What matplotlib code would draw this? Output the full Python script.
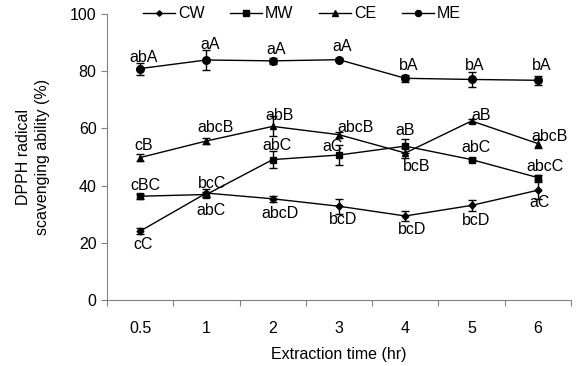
import numpy as np
import matplotlib
matplotlib.use("Agg")
import matplotlib.pyplot as plt

plt.rcParams['font.family'] = ['Liberation Sans', 'DejaVu Sans']

# tiempos de extraccion (categorias del eje x)
tiempos = ['0.5', '1', '2', '3', '4', '5', '6']

# valores medios de cada serie
cw = [24.1, 37.4, 35.4, 32.8, 29.4, 33.1, 38.4]
mw = [36.3, 36.9, 49.1, 50.7, 53.8, 49.1, 42.8]
ce = [49.8, 55.6, 60.7, 57.8, 51.4, 62.6, 54.7]
me = [80.9, 83.9, 83.6, 84.0, 77.5, 77.1, 76.8]

# errores
cw_err = [1.0, 1.5, 1.0, 2.7, 1.8, 1.8, 3.0]
mw_err = [0.8, 1.0, 3.1, 3.6, 2.5, 0.5, 0.8]
ce_err = [1.2, 1.2, 3.5, 1.0, 1.8, 0.6, 1.5]
me_err = [2.1, 3.6, 1.0, 0.5, 1.2, 2.7, 1.5]

# letras de significancia
cw_lab = ['cC', 'abC', 'abcD', 'bcD', 'bcD', 'bcD', 'aC']
mw_lab = ['cBC', 'bcC', 'abC', 'aC', 'aB', 'abC', 'abcC']
ce_lab = ['cB', 'abcB', 'abB', 'abcB', 'bcB', 'aB', 'abcB']
me_lab = ['abA', 'aA', 'aA', 'aA', 'bA', 'bA', 'bA']

x = np.arange(len(tiempos))

fig = plt.figure(figsize=(5.78, 3.66), dpi=100)
ax = fig.add_axes([0.185, 0.180, 0.803, 0.782])

series = [
    ('CW', cw, cw_err, 'D', 3.5),
    ('MW', mw, mw_err, 's', 5),
    ('CE', ce, ce_err, '^', 5),
    ('ME', me, me_err, 'o', 5.5),
]
for nombre, y, e, m, ms in series:
    ax.errorbar(x, y, yerr=e, fmt='none', ecolor='black',
                capsize=3, elinewidth=1, capthick=1)
    ax.plot(x, y, color='black', lw=1, marker=m, ms=ms, label=nombre)

fs = 11.5
# etiquetas: (desplazamiento x, desplazamiento y) en puntos, respecto al punto
def poner(labels, y, offs):
    for i, t in enumerate(labels):
        dx, dy = offs[i]
        ax.annotate(t, (x[i], y[i]), xytext=(dx, dy), textcoords='offset points',
                    ha='center', va='center', fontsize=fs)

poner(me_lab, me, [(2.5, 8), (2.5, 11.5), (2.5, 8.5), (2.5, 9.5), (2.5, 9), (2.5, 10), (2.5, 10.5)])
poner(ce_lab, ce, [(2.5, 8.4), (6.5, 9.4), (5, 7.5), (12, 5), (8, -10), (7, 4), (8.6, 4.8)])
poner(mw_lab, mw, [(4, 8), (4, 8), (3, 10.3), (-4.3, 5.8), (0, 11.3), (3, 9), (5, 8)])
poner(cw_lab, cw, [(2.5, -9.4), (3, -12.5), (5.4, -10.4), (3, -9.4), (5, -10), (3, -11), (1.5, -9)])

ax.set_xlim(-0.5, 6.5)
ax.set_ylim(0, 100)
ax.set_yticks([0, 20, 40, 60, 80, 100])
ax.set_xticks(np.arange(-0.5, 7, 1))
ax.set_xticklabels([])
ax.set_xticks(x, minor=True)
ax.set_xticklabels(tiempos, minor=True)
ax.tick_params(axis='x', which='minor', length=0, pad=15, labelsize=fs)
ax.tick_params(axis='x', which='major', length=4, color='#808080')
ax.tick_params(axis='y', length=4, color='#808080', labelsize=fs)
for s in ['top', 'right']:
    ax.spines[s].set_visible(False)
for s in ['left', 'bottom']:
    ax.spines[s].set_color('#808080')

ax.set_xlabel('Extraction time (hr)', fontsize=fs, labelpad=8)
ax.set_ylabel('DPPH radical\nscavenging ability (%)', fontsize=fs, labelpad=14,
              linespacing=1.4)

ax.legend(loc='center', bbox_to_anchor=(0.42, 1.0), ncol=4, frameon=False,
          fontsize=fs, handlelength=2.0, columnspacing=1.6, handletextpad=0.2,
          markerscale=0.8)

fig.savefig('out.png', dpi=100)
